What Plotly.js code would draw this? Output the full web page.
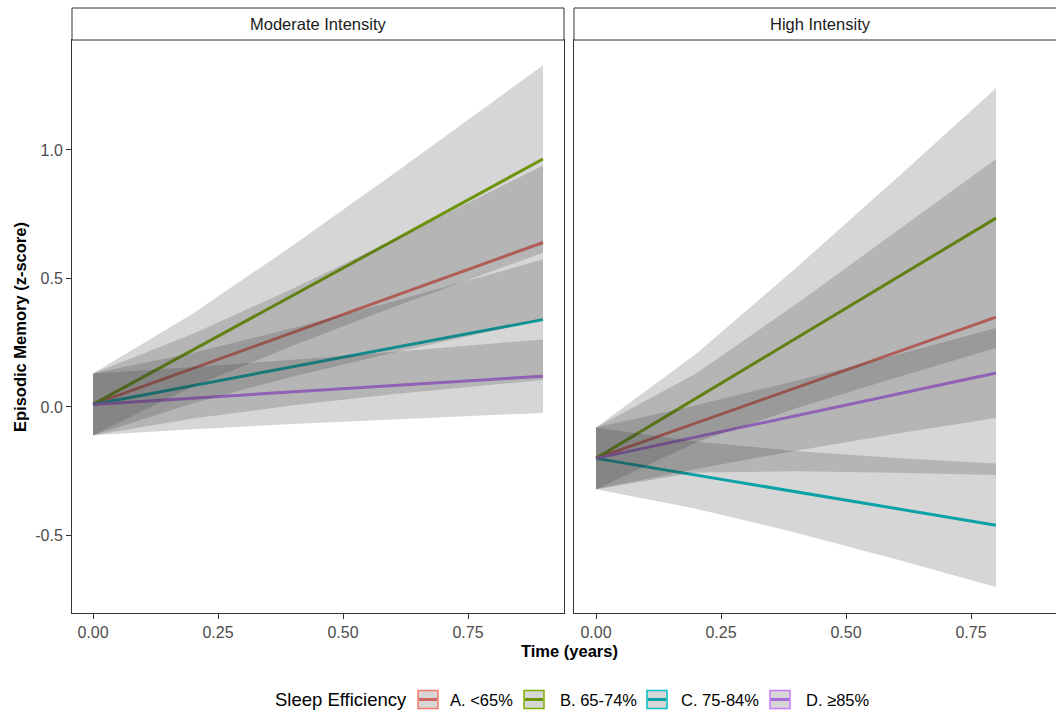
<!DOCTYPE html>
<html><head><meta charset="utf-8">
<script src="https://cdn.plot.ly/plotly-3.0.1.min.js"></script>
<style>html,body{margin:0;padding:0;background:#fff;overflow:hidden}</style>
</head><body><div id="chart" style="width:1056px;height:712px"></div>
<script>
// ---------------- data ----------------
const panels = ['Moderate Intensity', 'High Intensity'];
const groups = ['A. <65%', 'B. 65-74%', 'C. 75-84%', 'D. ≥85%'];
const groupColors = ['#F8766D', '#7CAE00', '#00BFC4', '#C77CFF'];
const legendTitle = 'Sleep Efficiency';
const xTitle = 'Time (years)';
const yTitle = 'Episodic Memory (z-score)';
const xTickVals = [0, 0.25, 0.5, 0.75];
const xTickText = ['0.00', '0.25', '0.50', '0.75'];
const yTickVals = [-0.5, 0, 0.5, 1.0];
const yTickText = ['-0.5', '0.0', '0.5', '1.0'];

// Moderate intensity panel
const timeModerate = [0, 0.2, 0.4, 0.6, 0.8, 0.9];
const modA_fit = [0.01, 0.15, 0.29, 0.43, 0.57, 0.64];
const modA_lo  = [-0.11, 0.015, 0.119, 0.211, 0.298, 0.34];
const modA_hi  = [0.13, 0.285, 0.461, 0.649, 0.842, 0.94];
const modB_fit = [0.01, 0.222, 0.434, 0.647, 0.859, 0.965];
const modB_lo  = [-0.11, 0.080, 0.239, 0.388, 0.530, 0.60];
const modB_hi  = [0.13, 0.364, 0.629, 0.906, 1.188, 1.33];
const modC_fit = [0.01, 0.083, 0.157, 0.23, 0.303, 0.34];
const modC_lo  = [-0.11, -0.045, 0.007, 0.050, 0.087, 0.105];
const modC_hi  = [0.13, 0.211, 0.307, 0.410, 0.519, 0.575];
const modD_fit = [0.01, 0.034, 0.059, 0.083, 0.108, 0.12];
const modD_lo  = [-0.11, -0.087, -0.066, -0.048, -0.031, -0.023];
const modD_hi  = [0.13, 0.155, 0.184, 0.214, 0.247, 0.263];

// High intensity panel
const timeHigh = [0, 0.2, 0.4, 0.6, 0.8];
const highA_fit = [-0.2, -0.0625, 0.075, 0.2125, 0.35];
const highA_lo  = [-0.32, -0.255, -0.25, -0.256, -0.265];
const highA_hi  = [-0.08, 0.130, 0.400, 0.681, 0.965];
const highB_fit = [-0.2, 0.034, 0.268, 0.501, 0.735];
const highB_lo  = [-0.32, -0.138, -0.005, 0.114, 0.23];
const highB_hi  = [-0.08, 0.206, 0.541, 0.888, 1.24];
const highC_fit = [-0.2, -0.265, -0.33, -0.395, -0.46];
const highC_lo  = [-0.32, -0.396, -0.489, -0.592, -0.70];
const highC_hi  = [-0.08, -0.134, -0.171, -0.198, -0.22];
const highD_fit = [-0.2, -0.117, -0.034, 0.049, 0.132];
const highD_lo  = [-0.32, -0.241, -0.170, -0.104, -0.043];
const highD_hi  = [-0.08, 0.007, 0.102, 0.202, 0.307];

// ---------------- build ----------------
const panelData = [
  {time: timeModerate, xa: 'x', ya: 'y', series: [
    [modA_fit, modA_lo, modA_hi], [modB_fit, modB_lo, modB_hi],
    [modC_fit, modC_lo, modC_hi], [modD_fit, modD_lo, modD_hi]]},
  {time: timeHigh, xa: 'x2', ya: 'y2', series: [
    [highA_fit, highA_lo, highA_hi], [highB_fit, highB_lo, highB_hi],
    [highC_fit, highC_lo, highC_hi], [highD_fit, highD_lo, highD_hi]]}
];

const ribbonFill = 'rgba(51,51,51,0.2)';
const lineTraces = [], ribbonTraces = [];
panelData.forEach(p => {
  p.series.forEach((s, i) => {
    lineTraces.push({
      type: 'scatter', mode: 'lines', x: p.time, y: s[0],
      xaxis: p.xa, yaxis: p.ya, name: groups[i], showlegend: false,
      line: {color: groupColors[i], width: 3}, hoverinfo: 'skip'
    });
    ribbonTraces.push({
      type: 'scatter', mode: 'lines',
      x: p.time.concat(p.time.slice().reverse()),
      y: s[2].concat(s[1].slice().reverse()),
      xaxis: p.xa, yaxis: p.ya, fill: 'toself', fillcolor: ribbonFill,
      line: {width: 0, color: 'rgba(0,0,0,0)'}, showlegend: false, hoverinfo: 'skip'
    });
  });
});

// pixel helpers for layout decoration
const W = 1056, H = 712, ML = 72, MR = 0, MT = 40, MB = 99;
const PW = W - ML - MR, PH = H - MT - MB;
const px = v => (v - ML) / PW;
const py = v => (H - MB - v) / PH;

const FONT = '"Liberation Sans", Arial, Helvetica, sans-serif';
const axisLine = '#333333';

const shapes = [];
const annotations = [];
// strips
[[72, 564], [574, 1070]].forEach((r, k) => {
  shapes.push({type: 'rect', xref: 'paper', yref: 'paper', x0: px(r[0]), x1: px(r[1]),
    y0: 1, y1: py(8), fillcolor: '#ffffff', line: {color: axisLine, width: 1}});
  annotations.push({xref: 'paper', yref: 'paper', x: px((r[0] + Math.min(r[1], 1066)) / 2), y: py(24),
    text: panels[k], showarrow: false, xanchor: 'center', yanchor: 'middle',
    font: {family: FONT, size: 16.5, color: '#1a1a1a'}});
});
// axis titles
annotations.push({xref: 'paper', yref: 'paper', x: px(569), y: py(651), text: '<b>' + xTitle + '</b>',
  showarrow: false, xanchor: 'center', yanchor: 'middle', font: {family: FONT, size: 16.5, color: '#000'}});
annotations.push({xref: 'paper', yref: 'paper', x: px(20), y: py(327), text: '<b>' + yTitle + '</b>',
  showarrow: false, textangle: -90, xanchor: 'center', yanchor: 'middle', font: {family: FONT, size: 16.5, color: '#000'}});

// legend (manual, ggplot-style keys)
const legY = 699.5;
annotations.push({xref: 'paper', yref: 'paper', x: px(273), y: py(legY), text: legendTitle,
  showarrow: false, xanchor: 'left', yanchor: 'middle', font: {family: FONT, size: 18.5, color: '#000'}});
const keyX = [418, 524, 647, 770];
const labX = [448, 558, 679, 804];
groups.forEach((g, i) => {
  const x0 = keyX[i], x1 = keyX[i] + 20, y0 = legY - 9, y1 = legY + 9;
  shapes.push({type: 'line', xref: 'paper', yref: 'paper', x0: px(x0 + 1), x1: px(x1 - 1),
    y0: py(legY), y1: py(legY), line: {color: groupColors[i], width: 3}});
  shapes.push({type: 'rect', xref: 'paper', yref: 'paper', x0: px(x0), x1: px(x1),
    y0: py(y1), y1: py(y0), fillcolor: ribbonFill, line: {color: groupColors[i], width: 1.5}});
  annotations.push({xref: 'paper', yref: 'paper', x: px(labX[i]), y: py(legY), text: g,
    showarrow: false, xanchor: 'left', yanchor: 'middle', font: {family: FONT, size: 16.5, color: '#000'}});
});

const commonX = {
  tickvals: xTickVals, ticktext: xTickText, ticks: 'outside', ticklen: 5, tickwidth: 1,
  tickcolor: axisLine, showline: true, mirror: true, linecolor: axisLine, linewidth: 1,
  showgrid: false, zeroline: false, tickfont: {family: FONT, size: 16, color: '#4d4d4d'}, fixedrange: true
};
const yRange = [-0.8016, 1.428];

const layout = {
  width: W, height: H, margin: {l: ML, r: MR, t: MT, b: MB},
  paper_bgcolor: '#ffffff', plot_bgcolor: '#ffffff', showlegend: false,
  font: {family: FONT},
  xaxis: Object.assign({}, commonX, {domain: [0, px(564)], range: [-0.042, 0.942], anchor: 'y'}),
  xaxis2: Object.assign({}, commonX, {domain: [px(574), 1], range: [-0.044, 0.92], anchor: 'y2'}),
  yaxis: {domain: [0, 1], range: yRange, anchor: 'x', tickvals: yTickVals, ticktext: yTickText,
    ticks: 'outside', ticklen: 5, tickwidth: 1, tickcolor: axisLine, showline: true, mirror: true,
    linecolor: axisLine, linewidth: 1, showgrid: false, zeroline: false,
    tickfont: {family: FONT, size: 16, color: '#4d4d4d'}, fixedrange: true},
  yaxis2: {domain: [0, 1], range: yRange, anchor: 'x2', showticklabels: false, ticks: '',
    showline: true, mirror: false, linecolor: axisLine, linewidth: 1, showgrid: false,
    zeroline: false, fixedrange: true},
  shapes: shapes, annotations: annotations
};

Plotly.newPlot('chart', lineTraces.concat(ribbonTraces), layout, {displayModeBar: false, staticPlot: true});
</script>
</body></html>
